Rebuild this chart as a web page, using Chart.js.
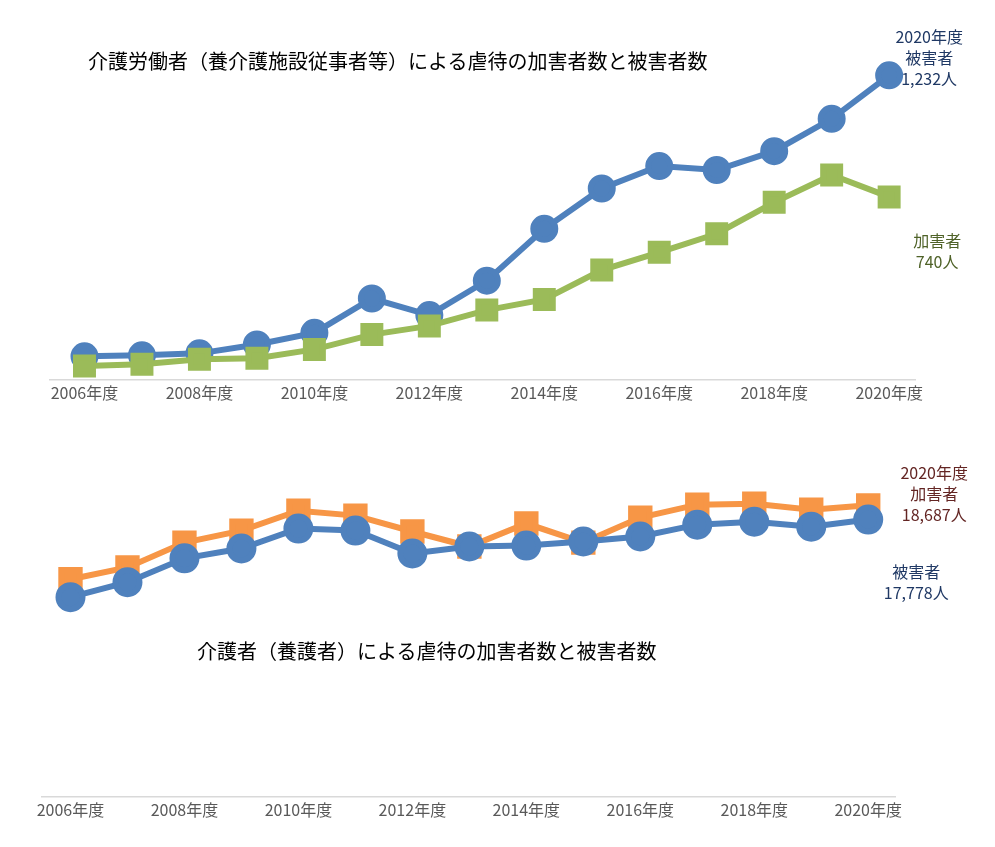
<!DOCTYPE html>
<html><head><meta charset="utf-8">
<script src="https://cdn.jsdelivr.net/npm/chart.js@4"></script>
<style>
body{margin:0;background:#fff;font-family:"Noto Sans CJK JP",sans-serif;}
.box{position:absolute;left:0;width:995px;}
.t{position:absolute;font-size:20px;color:#000;white-space:nowrap;}
</style></head><body>
<div class="box" style="top:0;height:420px"><canvas id="c1"></canvas></div>
<div class="box" style="top:430px;height:417px"><canvas id="c2"></canvas></div>
<div class="t" style="left:88px;top:46px">介護労働者（養介護施設従事者等）による虐待の加害者数と被害者数</div>
<div class="t" style="left:197px;top:636px">介護者（養護者）による虐待の加害者数と被害者数</div>
<script>
var years = [2006,2007,2008,2009,2010,2011,2012,2013,2014,2015,2016,2017,2018,2019,2020];
// 養介護施設従事者等
var staffVictims = [95,99,107,143,190,329,262,401,611,774,865,849,925,1056,1232];
var staffAbusers = [56,63,83,87,123,183,218,282,325,444,516,591,718,829,740];
// 養護者
var homeAbusers = [13950,14710,16300,17070,18340,18030,17010,16050,17520,16300,17900,18730,18790,18410,18687];
var homeVictims = [12800,13760,15290,15920,17200,17070,15600,16050,16110,16370,16690,17450,17640,17320,17778];

function pts(arr){ return arr.map(function(v,i){ return {x:years[i], y:v}; }); }

var labelPlugin = {
  id:'lbl',
  afterDraw:function(chart){
    var ctx = chart.ctx, notes = chart.options.plugins.lbl.notes;
    ctx.save();
    ctx.font = '16px "Noto Sans CJK JP"';
    ctx.textAlign = 'center';
    notes.forEach(function(n){
      var p = chart.getDatasetMeta(n.ds).data[years.length-1];
      ctx.fillStyle = n.color;
      n.lines.forEach(function(s,k){ ctx.fillText(s, p.x + n.dx, p.y + n.dy + k*21); });
    });
    ctx.restore();
  }
};

function makeChart(id, sets, ymax, xmin, xmax, pad, notes){
  return new Chart(document.getElementById(id), {
    type:'line',
    data:{ datasets:sets },
    plugins:[labelPlugin],
    options:{
      responsive:true, maintainAspectRatio:false, animation:false,
      layout:{padding:pad},
      plugins:{legend:{display:false}, tooltip:{enabled:false}, lbl:{notes:notes}},
      scales:{
        x:{type:'linear', min:xmin, max:xmax,
           afterBuildTicks:function(ax){ ax.ticks = years.filter(function(y){return y%2===0;}).map(function(y){return {value:y};}); },
           ticks:{callback:function(v){return v+'年度';}, color:'#595959', font:{size:16,family:'Noto Sans CJK JP'}, maxRotation:0, padding:4},
           grid:{display:false, drawTicks:false}, border:{color:'#d9d9d9', width:1.5}},
        y:{display:false, min:0, max:ymax}
      }
    }
  });
}

makeChart('c1', [
  {data:pts(staffAbusers), borderColor:'#9bbb59', backgroundColor:'#9bbb59', borderWidth:6, pointStyle:'rect', pointRadius:12, tension:0},
  {data:pts(staffVictims), borderColor:'#4f81bd', backgroundColor:'#4f81bd', borderWidth:6, pointStyle:'circle', pointRadius:11, tension:0}
], 1464, 2005.4, 2020.45, {left:50,right:80,top:0,bottom:13}, [
  {ds:1, dx:40, dy:-32, color:'#1f3864', lines:['2020年度','被害者','1,232人']},
  {ds:0, dx:48, dy:50, color:'#4f6228', lines:['加害者','740人']}
]);

makeChart('c2', [
  {data:pts(homeVictims), borderColor:'#4f81bd', backgroundColor:'#4f81bd', borderWidth:6, pointStyle:'circle', pointRadius:12, tension:0},
  {data:pts(homeAbusers), borderColor:'#f79646', backgroundColor:'#f79646', borderWidth:6, pointStyle:'rect', pointRadius:13, tension:0}
], 22300, 2005.5, 2020.47, {left:42,right:100,top:0,bottom:23}, [
  {ds:1, dx:66, dy:-26, color:'#632523', lines:['2020年度','加害者','18,687人']},
  {ds:0, dx:48, dy:58, color:'#1f3864', lines:['被害者','17,778人']}
]);
</script>
</body></html>
